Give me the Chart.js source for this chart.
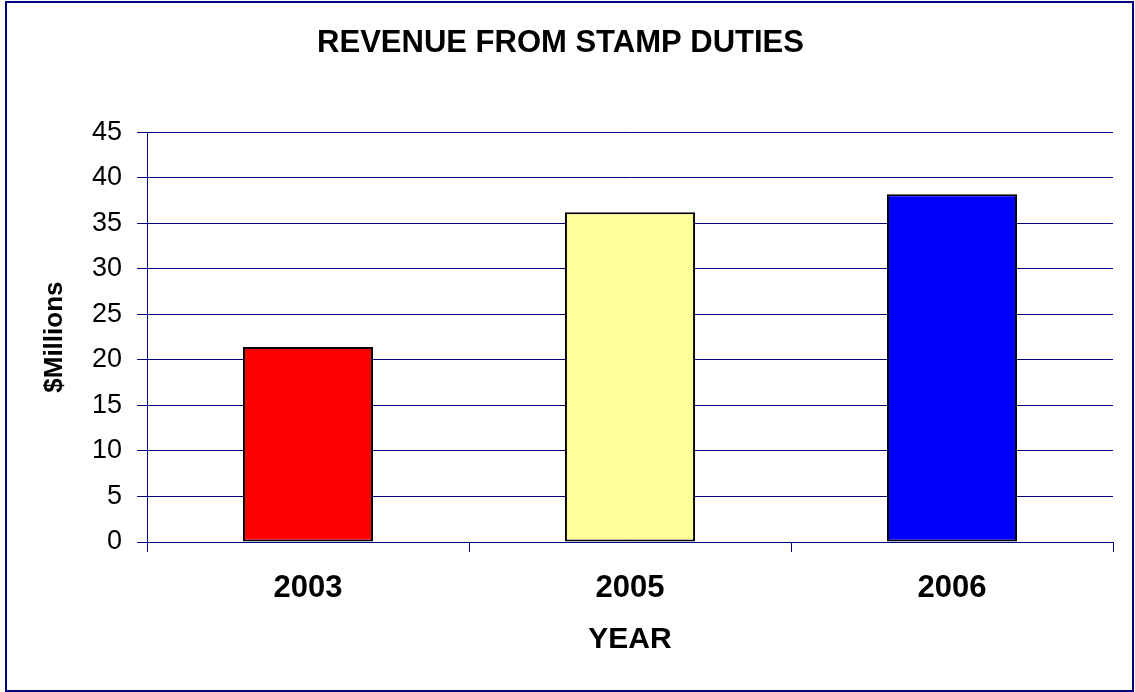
<!DOCTYPE html>
<html>
<head>
<meta charset="utf-8">
<script src="https://cdn.jsdelivr.net/npm/chart.js@4.4.1/dist/chart.umd.min.js"></script>
<style>
  html, body { margin: 0; padding: 0; background: #ffffff; }
  #wrap { position: relative; width: 1135px; height: 692px; }
  #frame { position: absolute; left: 5px; top: 1px; width: 1129px; height: 691px; box-sizing: border-box; border: 2px solid #000080; pointer-events: none; }
  canvas { display: block; }
</style>
</head>
<body>
<div id="wrap">
  <canvas id="c" width="1135" height="692"></canvas>
  <div id="frame"></div>
</div>
<script>
const chartTitle = 'REVENUE FROM STAMP DUTIES';
const categories = ['2003', '2005', '2006'];
const revenue = [21.4, 36.2, 38.2];
const barColors = ['#FF0000', '#FFFF99', '#0000FF'];
const yAxisTitle = '$Millions';
const xAxisTitle = 'YEAR';
const yMin = 0, yMax = 45, yStep = 5;

const FONT = "'Liberation Sans', Arial, sans-serif";
const NAVY = '#000080';

new Chart(document.getElementById('c'), {
  type: 'bar',
  data: {
    labels: categories,
    datasets: [{
      data: revenue,
      backgroundColor: barColors,
      borderColor: '#000000',
      borderWidth: 2,
      borderSkipped: false,
      barPercentage: 0.404,
      categoryPercentage: 1.0
    }]
  },
  options: {
    responsive: false,
    animation: false,
    devicePixelRatio: 1,
    layout: { padding: { left: 0, right: 14, top: 0, bottom: 0 } },
    plugins: {
      legend: { display: false },
      tooltip: { enabled: false },
      title: {
        display: true,
        text: chartTitle,
        color: '#000000',
        font: { family: FONT, size: 31, weight: 'bold', lineHeight: 1.2 },
        padding: { top: 25, bottom: 70 }
      }
    },
    scales: {
      x: {
        grid: { display: true, drawOnChartArea: false, drawTicks: true, tickLength: 10, color: NAVY, lineWidth: 1, offset: true },
        border: { display: true, color: NAVY, width: 1 },
        ticks: { color: '#000000', padding: 18, font: { family: FONT, size: 31, weight: 'bold' } },
        title: { display: true, text: xAxisTitle, color: '#000000', font: { family: FONT, size: 30, weight: 'bold', lineHeight: 1.2 }, padding: { top: 0, bottom: 34 } },
        afterFit: s => { s.height = 150; }
      },
      y: {
        min: yMin, max: yMax,
        grid: { display: true, drawOnChartArea: true, drawTicks: true, tickLength: 10, color: NAVY, lineWidth: 1 },
        border: { display: true, color: NAVY, width: 1 },
        ticks: { stepSize: yStep, color: '#000000', padding: 15, font: { family: FONT, size: 27 } },
        title: { display: true, text: yAxisTitle, color: '#000000', font: { family: FONT, size: 26, weight: 'bold', lineHeight: 1.2 }, padding: { top: 39, bottom: 0 } },
        afterFit: s => { s.width = 147; }
      },
      yPad: {
        position: 'right',
        display: true,
        grid: { display: false },
        border: { display: false },
        ticks: { display: false },
        afterFit: s => { s.width = 8; }
      }
    }
  }
});
</script>
</body>
</html>
